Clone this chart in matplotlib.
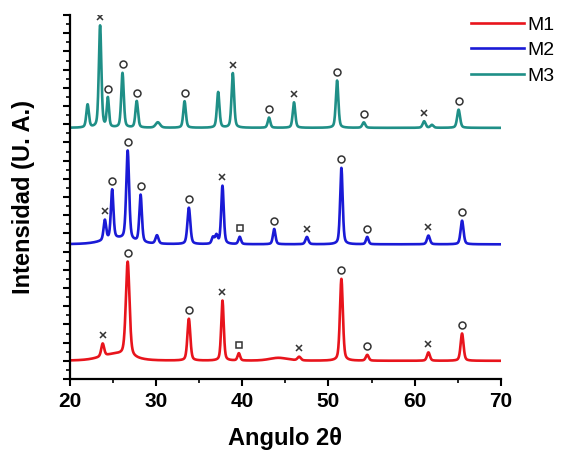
import numpy as np
import matplotlib
matplotlib.use("Agg")
import matplotlib.pyplot as plt

plt.rcParams['font.family'] = ['Liberation Sans', 'DejaVu Sans']

# 2-theta grid
two_theta = np.arange(20, 70.001, 0.02)

# M1 (rojo): baseline + peaks (posicion, altura, ancho FWHM)
m1_base = 5.0
m1_pos = [23.8, 25.3, 26.7, 33.8, 37.7, 39.6, 44.2, 46.6, 51.5, 54.5, 61.6, 65.5]
m1_hgt = [3.5, 1.8, 26.0, 11.5, 16.5, 2.0, 0.8, 1.0, 22.5, 1.6, 2.3, 7.5]
m1_wid = [0.4, 4.0, 0.5, 0.4, 0.35, 0.35, 2.5, 0.45, 0.4, 0.4, 0.4, 0.4]

# M2 (azul)
m2_base = 37.0
m2_pos = [24.05, 24.9, 25.5, 26.7, 28.2, 30.1, 33.8, 36.6, 37.0, 37.7, 39.7, 43.7, 47.5, 51.5, 54.5, 61.6, 65.5]
m2_hgt = [5.5, 13.5, 1.5, 24.5, 13.0, 2.3, 10.0, 1.8, 2.3, 16.0, 2.0, 4.2, 2.0, 21.0, 2.0, 2.4, 6.5]
m2_wid = [0.35, 0.35, 4.0, 0.4, 0.35, 0.4, 0.4, 0.35, 0.35, 0.35, 0.35, 0.35, 0.4, 0.35, 0.35, 0.4, 0.4]

# M3 (verde)
m3_base = 69.0
m3_pos = [22.05, 23.5, 24.4, 26.1, 27.75, 30.2, 33.3, 37.2, 38.9, 43.1, 46.0, 51.0, 54.1, 61.1, 62.0, 65.1]
m3_hgt = [6.3, 28.0, 8.0, 15.0, 7.3, 1.5, 7.3, 9.8, 15.0, 2.8, 7.0, 13.0, 1.5, 1.8, 0.8, 5.0]
m3_wid = [0.35, 0.35, 0.3, 0.35, 0.35, 0.6, 0.35, 0.35, 0.35, 0.35, 0.35, 0.35, 0.4, 0.4, 0.4, 0.4]

# marcas de fase sobre los picos
m1_marks = [(23.8, 'x'), (26.7, 'o'), (33.8, 'o'), (37.7, 'x'), (39.6, 's'),
            (46.6, 'x'), (51.5, 'o'), (54.5, 'o'), (61.6, 'x'), (65.5, 'o')]
m2_marks = [(24.05, 'x'), (24.9, 'o'), (26.7, 'o'), (28.2, 'o'), (33.8, 'o'), (37.7, 'x'),
            (39.7, 's'), (43.7, 'o'), (47.5, 'x'), (51.5, 'o'), (54.5, 'o'), (61.6, 'x'), (65.5, 'o')]
m3_marks = [(23.5, 'x'), (24.4, 'o'), (26.1, 'o'), (27.75, 'o'), (33.3, 'o'), (38.9, 'x'),
            (43.1, 'o'), (46.0, 'x'), (51.0, 'o'), (54.1, 'o'), (61.1, 'x'), (65.1, 'o')]

labels = ['M1', 'M2', 'M3']
colors = ['#e8141c', '#1a1ad6', '#1f8f87']


def pattern(base, pos, hgt, wid):
    y = np.full_like(two_theta, base)
    for p, h, w in zip(pos, hgt, wid):
        g = np.exp(-4 * np.log(2) * (two_theta - p) ** 2 / w ** 2)
        l = 1 / (1 + 4 * (two_theta - p) ** 2 / w ** 2)
        y += h * (0.6 * g + 0.4 * l)
    return y


series = [(m1_base, m1_pos, m1_hgt, m1_wid, m1_marks),
          (m2_base, m2_pos, m2_hgt, m2_wid, m2_marks),
          (m3_base, m3_pos, m3_hgt, m3_wid, m3_marks)]

fig = plt.figure(figsize=(5.64, 4.55), dpi=100)
ax = fig.add_axes([0.124, 0.167, 0.764, 0.800])

for (base, pos, hgt, wid, marks), lab, c in zip(series, labels, colors):
    y = pattern(base, pos, hgt, wid)
    ax.plot(two_theta, y, color=c, lw=1.9, label=lab)
    for xm, mk in marks:
        ym = np.interp(xm, two_theta, y) + 2.3
        if mk == 'x':
            ax.plot(xm, ym, marker='x', ms=4.5, mew=1.1, color='#333333', ls='none')
        else:
            ax.plot(xm, ym, marker=mk, ms=5, mew=1.1, mfc='none', mec='#333333', ls='none')

ax.set_xlim(20, 70)
ax.set_ylim(0, 100)
ax.spines['top'].set_visible(False)
ax.spines['right'].set_visible(False)
ax.spines['left'].set_linewidth(1.6)
ax.spines['bottom'].set_linewidth(1.6)

ax.set_xticks(np.arange(20, 71, 10))
ax.set_xticks(np.arange(25, 70, 10), minor=True)
ax.set_yticks(np.arange(0, 101, 5))
ax.set_yticks(np.arange(2.5, 100, 5), minor=True)
ax.set_yticklabels([])
ax.tick_params(axis='both', which='major', direction='out', length=5, width=1.5, pad=4)
ax.tick_params(axis='both', which='minor', direction='out', length=3, width=1.2)
for t in ax.get_xticklabels():
    t.set_fontweight('bold')
    t.set_fontsize(15)

ax.set_xlabel('Angulo 2\u03b8', fontsize=17, fontweight='bold', labelpad=12)
ax.set_ylabel('Intensidad (U. A.)', fontsize=17, fontweight='bold', labelpad=16)

fig.legend(loc='upper right', bbox_to_anchor=(1.015, 1.003), frameon=False, fontsize=14,
           handlelength=2.7, handletextpad=0.2, labelspacing=0.4)

fig.savefig('out.png', dpi=100)
